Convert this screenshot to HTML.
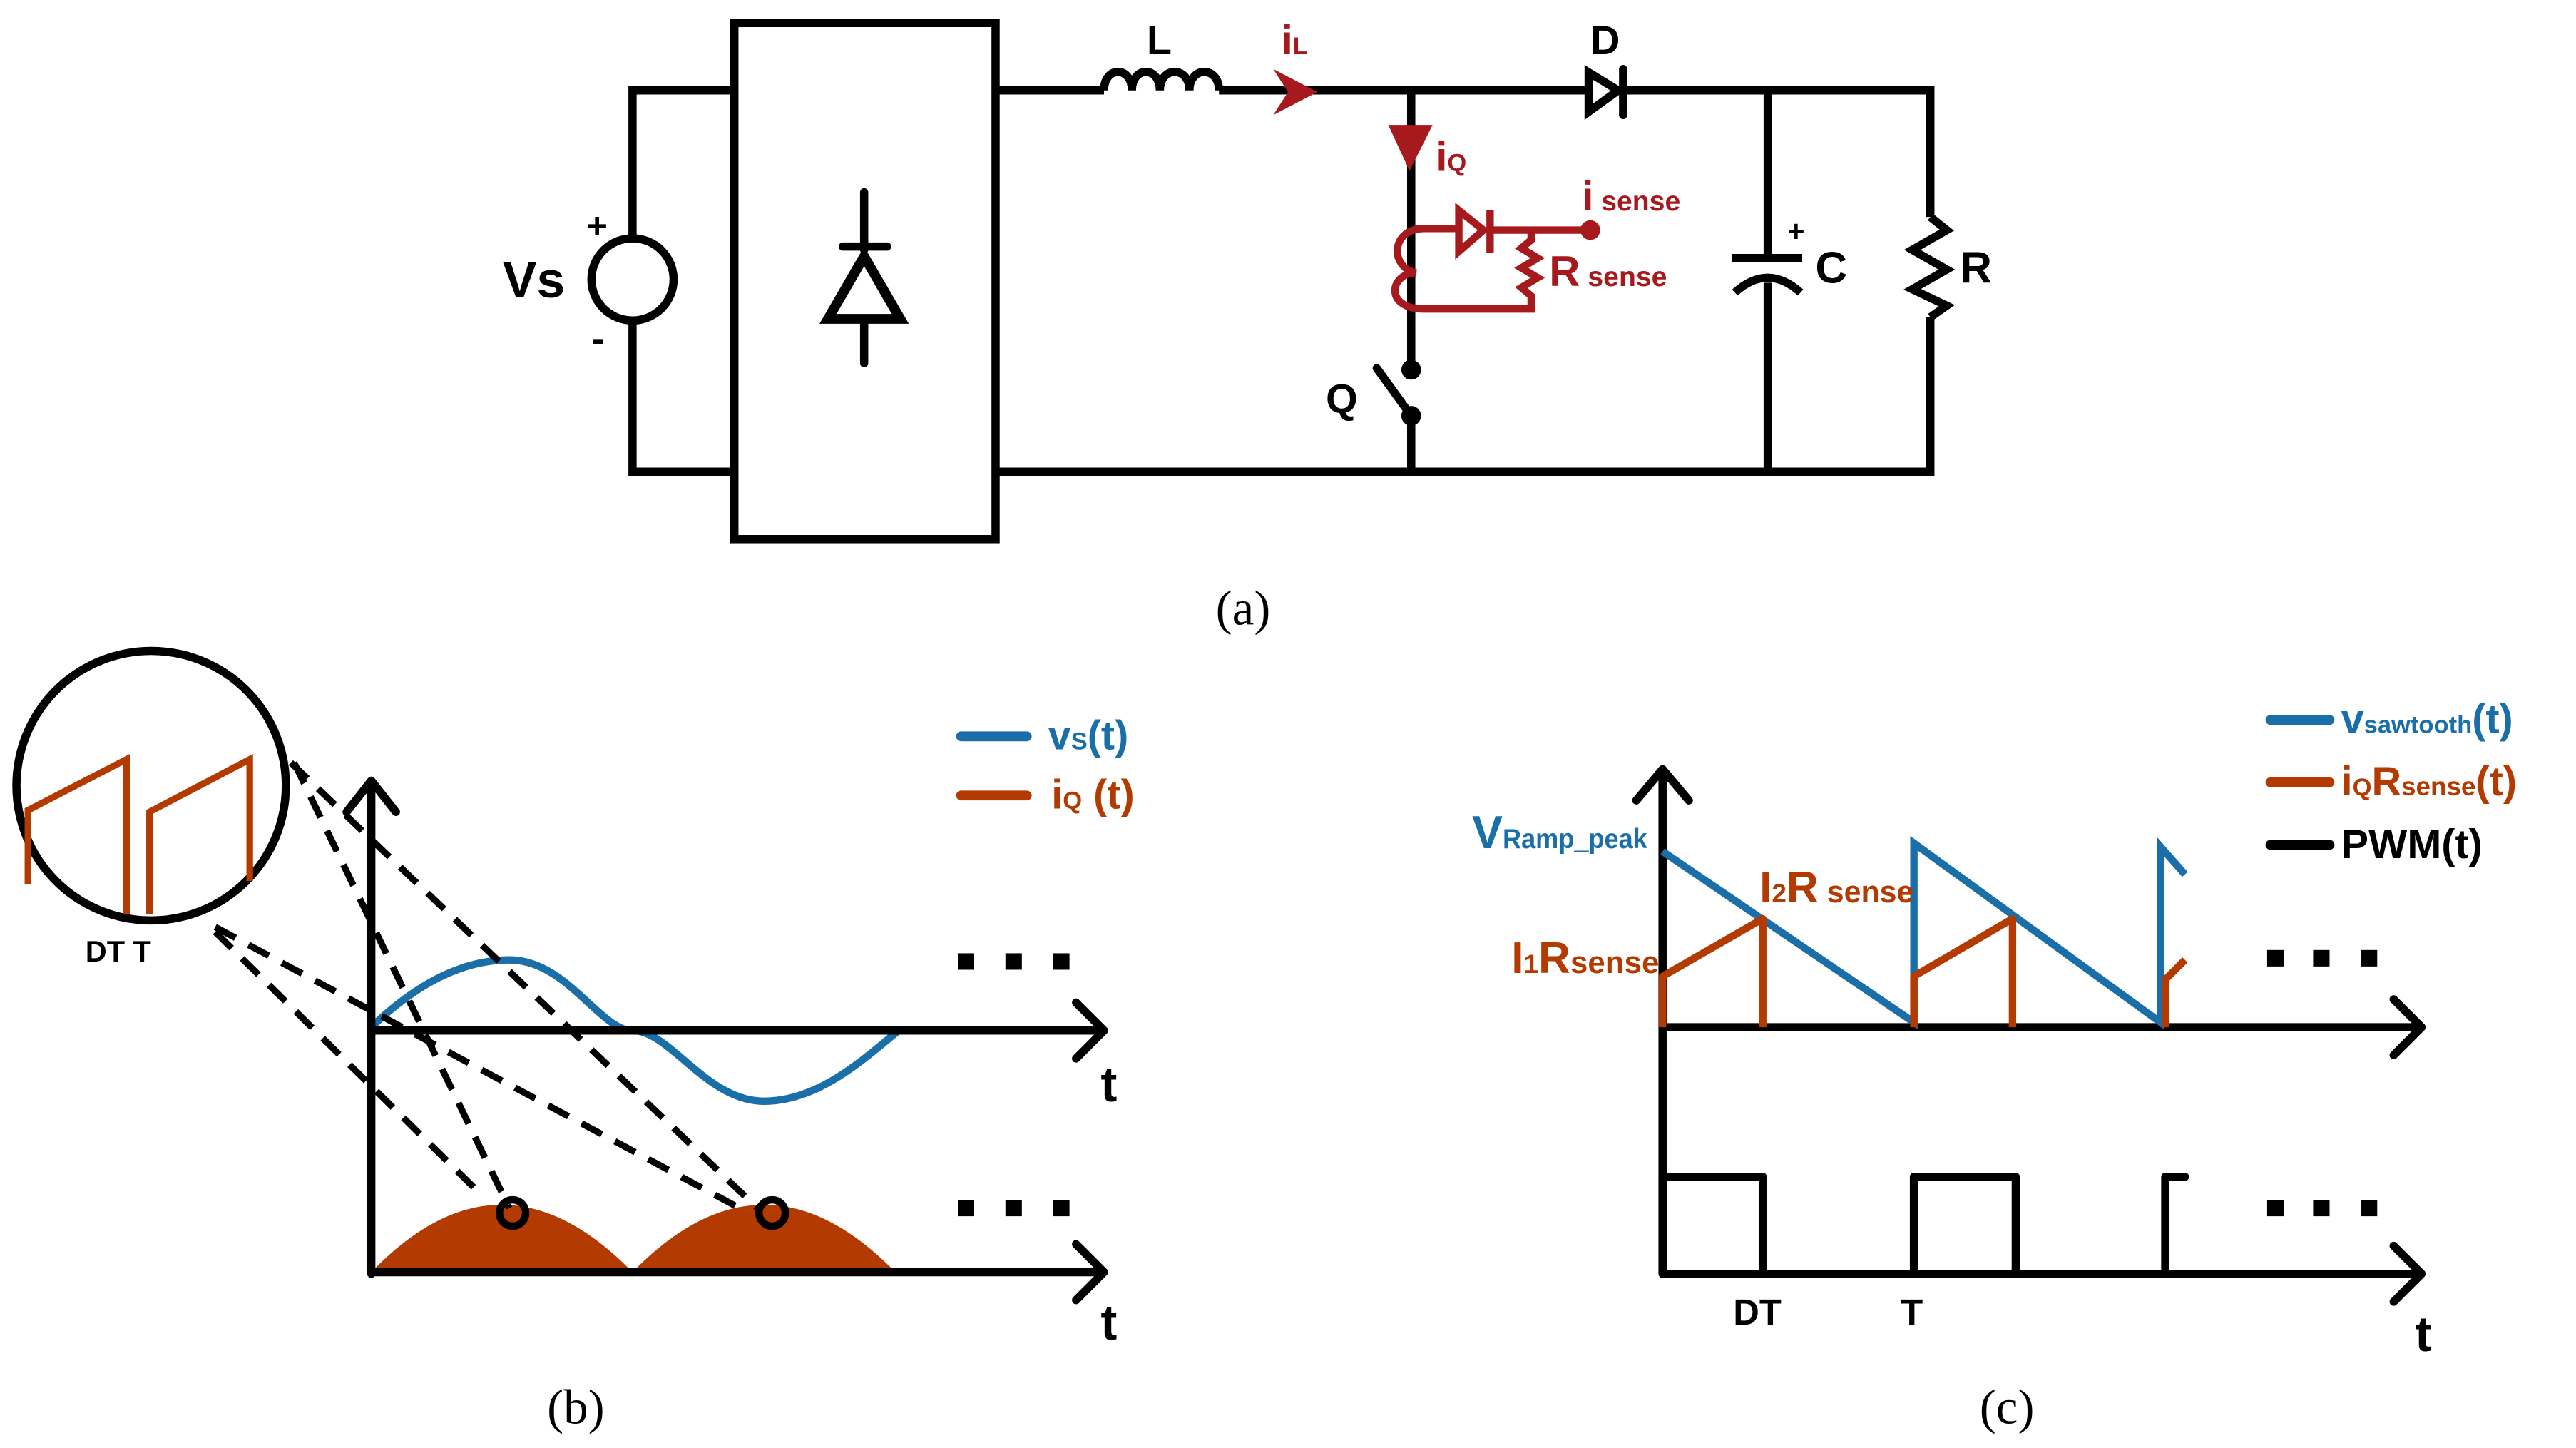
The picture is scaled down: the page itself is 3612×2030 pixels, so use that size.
<!DOCTYPE html>
<html><head><meta charset="utf-8"><style>
html,body{margin:0;padding:0;background:#fff;}
svg{display:block;}
text{font-family:"Liberation Sans",sans-serif;font-weight:bold;}
.serif{font-family:"Liberation Serif",serif;font-weight:normal;}
</style></head><body>
<svg width="3612" height="2030" viewBox="0 0 1568 881" preserveAspectRatio="none" xmlns="http://www.w3.org/2000/svg">
<rect width="1568" height="881" fill="#fff"/>
<!-- (a) circuit -->
<g stroke="#000" stroke-width="5" fill="none" stroke-linejoin="miter">
<path d="M447,55 H385 V144 M385,196 V287 H447"/>
<circle cx="385" cy="170" r="25"/>
<rect x="447" y="14" width="159" height="314"/>
<path d="M606,55 H672 M742,55 H965 M988,55 H1175 V132 M1175,193 V287 H606"/>
<path d="M672,55 c0,-15 17,-15 17,0 c0,-15 17,-15 17,0 c0,-15 18,-15 18,0 c0,-15 18,-15 18,0"/>
<path d="M859,55 V225 M859,253 V287"/>
<path d="M1076,55 V157 M1076,172 V287 M1054,157 H1097"/>
<path d="M1056,178 Q1076,160 1096,178"/>
<path d="M1175,132 L1185,140 L1164,152 L1185,164 L1164,176 L1185,186 L1175,193"/>
</g>
<g stroke="#000" stroke-width="5" stroke-linecap="round" fill="none">
<path d="M526,117 V152 M526,195 V221 M513,150 H540"/>
<path d="M838,224 L859,253"/>
<path d="M988,42 V70"/>
</g>
<polygon points="526,156 504,194 548,194" fill="none" stroke="#000" stroke-width="6" stroke-linejoin="miter"/>
<polygon points="967,44 985,55 967,68" fill="none" stroke="#000" stroke-width="5"/>
<circle cx="859" cy="225" r="6" fill="#000"/><circle cx="859" cy="253" r="6" fill="#000"/>
<!-- red parts -->
<polygon points="775,42 802,56 775,70 784,56" fill="#a6191d"/>
<polygon points="845,76 872,76 858,104" fill="#a6191d"/>
<g stroke="#a6191d" stroke-width="4.5" fill="none">
<path d="M887,139 H867 C846,139 846,163 862,166 C846,166 842,188 867,188 H932 V180 L926,175 L936,169 L926,163 L936,157 L926,151 L932,146 V140"/>
<path d="M905,140 H968"/>
<polygon points="888,128 903,140 888,153"/>
<path d="M907,128 V154"/>
</g>
<circle cx="968" cy="140" r="6" fill="#a6191d"/>
<g fill="#000">
<text x="306" y="181" font-size="31">Vs</text>
<text x="357" y="145" font-size="22">+</text><text x="360" y="214" font-size="24">-</text>
<text x="698" y="33" font-size="25">L</text>
<text x="968" y="33" font-size="25">D</text>
<text x="1105" y="172" font-size="27">C</text>
<text x="1193" y="172" font-size="27">R</text>
<text x="1088" y="147" font-size="18">+</text>
<text x="807" y="251" font-size="25">Q</text>
</g>
<g fill="#a6191d">
<text x="780" y="33" font-size="25">i<tspan font-size="15">L</tspan></text>
<text x="874" y="104" font-size="25">i<tspan font-size="15">Q</tspan></text>
<text x="963" y="128" font-size="25">i<tspan font-size="17"> sense</tspan></text>
<text x="943" y="174" font-size="26">R<tspan font-size="17"> sense</tspan></text>
</g>
<text x="740" y="380" font-size="30" class="serif">(a)</text>
<!-- (b) -->
<path d="M226,625 C252,600 280,584 310,584 C345,584 365,627 385,627 C408,627 430,670 465,670 C498,670 525,645 547,627" stroke="#1a6fa8" stroke-width="4.5" fill="none"/>
<path d="M226,774 Q305,692 385,774 Q465,692 545,774 Z" fill="#b33a00"/>
<g stroke="#000" stroke-width="5" fill="none" stroke-linecap="round" stroke-linejoin="round">
<path d="M226,775 V476 M211,494 L226,475 L241,494"/>
<path d="M226,627 H670 M655,610 L672,627 L655,644"/>
<path d="M226,774 H670 M655,757 L672,774 L655,791"/>
<path d="M1012,775 V470 M996,487 L1012,468 L1028,487"/>
<path d="M1012,625 H1472 M1457,608 L1474,625 L1457,642"/>
<path d="M1012,775 H1472 M1457,758 L1474,775 L1457,792"/>
<path d="M1012,775 V716 H1073 V775 M1165,775 V716 H1227 V775 M1318,775 V716 H1330"/>
</g>
<circle cx="92" cy="478" r="82" fill="none" stroke="#000" stroke-width="5"/>
<path d="M17,538 V493 L77,462 V556 M91,556 V494 L152,462 V536" stroke="#b33a00" stroke-width="4" fill="none"/>
<g stroke="#000" stroke-width="4" stroke-dasharray="14,9" fill="none">
<path d="M179,464 L310,735"/><path d="M177,464 L461,735"/>
<path d="M131,564 L452,736"/><path d="M131,567 L292,726"/>
</g>
<circle cx="312" cy="738" r="8" fill="none" stroke="#000" stroke-width="4.5"/>
<circle cx="470" cy="738" r="8" fill="none" stroke="#000" stroke-width="4.5"/>
<text x="52" y="585" font-size="18">DT T</text>
<text x="670" y="670" font-size="30">t</text><text x="670" y="815" font-size="30">t</text>
<g fill="#000"><rect x="583" y="580" width="10" height="10"/><rect x="612" y="580" width="10" height="10"/><rect x="641" y="580" width="10" height="10"/>
<rect x="583" y="730" width="10" height="10"/><rect x="612" y="730" width="10" height="10"/><rect x="641" y="730" width="10" height="10"/>
<rect x="1380" y="578" width="10" height="10"/><rect x="1408" y="578" width="10" height="10"/><rect x="1437" y="578" width="10" height="10"/>
<rect x="1380" y="730" width="10" height="10"/><rect x="1408" y="730" width="10" height="10"/><rect x="1437" y="730" width="10" height="10"/></g>
<path d="M585,448 H625" stroke="#1a6fa8" stroke-width="6" stroke-linecap="round"/>
<path d="M585,484 H625" stroke="#b33a00" stroke-width="6" stroke-linecap="round"/>
<text x="638" y="456" font-size="25" fill="#1a6fa8">v<tspan font-size="15">S</tspan>(t)</text>
<text x="640" y="492" font-size="25" fill="#b33a00">i<tspan font-size="15">Q</tspan> (t)</text>
<text x="333" y="866" font-size="30" class="serif">(b)</text>
<!-- (c) -->
<path d="M1012,518 L1165,622 V513 L1315,622 V515 L1330,532" stroke="#1a6fa8" stroke-width="4.5" fill="none" stroke-linejoin="miter"/>
<path d="M1012,625 V594 L1073,559 V625 M1165,625 V594 L1225,559 V625 M1318,625 V596 L1330,584" stroke="#b33a00" stroke-width="4.5" fill="none" stroke-linejoin="round"/>
<text x="896" y="516" font-size="28" fill="#1a6fa8">V<tspan font-size="17" textLength="88" lengthAdjust="spacingAndGlyphs">Ramp_peak</tspan></text>
<text x="1071" y="549" font-size="27" fill="#b33a00">I<tspan font-size="16">2</tspan>R<tspan font-size="19" textLength="58" lengthAdjust="spacingAndGlyphs"> sense</tspan></text>
<text x="920" y="592" font-size="27" fill="#b33a00">I<tspan font-size="16">1</tspan>R<tspan font-size="19" textLength="54" lengthAdjust="spacingAndGlyphs">sense</tspan></text>
<text x="1055" y="806" font-size="22">DT</text><text x="1157" y="806" font-size="22">T</text>
<text x="1470" y="822" font-size="30">t</text>
<path d="M1382,438 H1418" stroke="#1a6fa8" stroke-width="6" stroke-linecap="round"/>
<path d="M1382,476 H1418" stroke="#b33a00" stroke-width="6" stroke-linecap="round"/>
<path d="M1382,514 H1418" stroke="#000" stroke-width="6" stroke-linecap="round"/>
<text x="1425" y="446" font-size="25" fill="#1a6fa8">v<tspan font-size="15">sawtooth</tspan>(t)</text>
<text x="1425" y="484" font-size="25" fill="#b33a00">i<tspan font-size="15">Q</tspan>R<tspan font-size="16">sense</tspan>(t)</text>
<text x="1425" y="522" font-size="25" fill="#000">PWM(t)</text>
<text x="1205" y="866" font-size="30" class="serif">(c)</text>
</svg>
</body></html>
